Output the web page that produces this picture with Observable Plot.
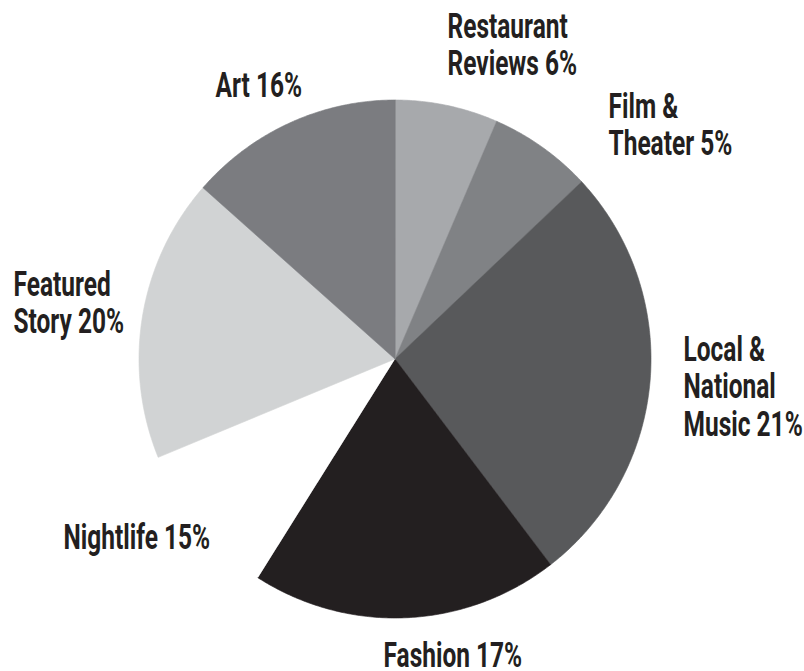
<!DOCTYPE html>
<html><head><meta charset="utf-8">
<script src="https://cdn.jsdelivr.net/npm/d3@7"></script>
<script src="https://cdn.jsdelivr.net/npm/@observablehq/plot@0.6"></script>
<style>body{margin:0;background:#fff}#chart svg{display:block}</style>
</head><body><div id="chart"></div>
<script>
// ---- data (clockwise from 12 o'clock) ----
const categories = ["Restaurant\nReviews", "Film &\nTheater", "Local &\nNational\nMusic", "Fashion", "Nightlife", "Featured\nStory", "Art"];
const labelPercent = [6, 5, 21, 17, 15, 20, 16];          // percentages printed in the labels
const sliceShare = [6.5, 6.5, 26.6, 19.4, 9.8, 17.7, 13.5]; // slice sizes as drawn in the picture (%)

// ---- styles / layout ----
const sliceColors = ["#a7a9ac", "#808285", "#58595b", "#231f20", "#ffffff", "#d1d3d4", "#7b7c80"];
const W = 804, H = 671, cx = 394.5, cy = 358.5, rx = 256, ry = 259;
const fontSize = 35, lineHeight = 1.08, squeeze = 0.70;
const labelBaseline = [[447, 37], [608, 117], [683, 360], [383, 665], [63, 547], [13, 295], [215, 95]];

// build pie polygons from the shares
const total = d3.sum(sliceShare);
const slices = [];
let acc = 0;
sliceShare.forEach((s, i) => {
  const a0 = acc / total * 2 * Math.PI, a1 = (acc + s) / total * 2 * Math.PI;
  acc += s;
  const pts = [{x: 0, y: 0}];
  const n = Math.max(2, Math.ceil((a1 - a0) / (Math.PI / 360)));
  for (let k = 0; k <= n; k++) {
    const a = a0 + (a1 - a0) * k / n;
    pts.push({x: Math.sin(a), y: Math.cos(a)});
  }
  slices.push(pts);
});

const labels = categories.map((c, i) => {
  const [px, py] = labelBaseline[i];
  const nLines = c.split("\n").length;
  const topY = py - 0.71 * (nLines > 1 ? lineHeight : 1) * fontSize;
  return {text: `${c} ${labelPercent[i]}%`, x: (px - cx) / rx, y: (cy - topY) / ry};
});

const chart = Plot.plot({
  width: W, height: H, margin: 0,
  x: {domain: [-1, 1], range: [cx - rx, cx + rx], axis: null},
  y: {domain: [-1, 1], range: [cy + ry, cy - ry], axis: null},
  marks: [
    ...slices.map((pts, i) => Plot.line(pts, {
      x: "x", y: "y", curve: "linear-closed",
      fill: sliceColors[i],
      stroke: sliceColors[i] === "#ffffff" ? "none" : sliceColors[i],
      strokeWidth: 0.6
    })),
    Plot.text(labels, {
      x: "x", y: "y", text: "text",
      textAnchor: "start", lineAnchor: "top", lineHeight,
      fontSize, fontWeight: 700, fontFamily: "Roboto, 'Noto Sans', sans-serif",
      fill: "#231f20"
    })
  ]
});
chart.style.background = "#fff";
document.getElementById("chart").appendChild(chart);

// condense the label glyphs horizontally (the original uses a condensed face)
chart.querySelectorAll("text").forEach(t => {
  const tr = t.getAttribute("transform");
  if (tr && tr.includes("translate")) {
    t.setAttribute("transform", `${tr} scale(${squeeze},1)`);
  } else {
    const x = parseFloat(t.getAttribute("x") || "0");
    t.setAttribute("x", x / squeeze);
    t.setAttribute("transform", `${tr || ""} scale(${squeeze},1)`);
  }
});
</script>
</body></html>
